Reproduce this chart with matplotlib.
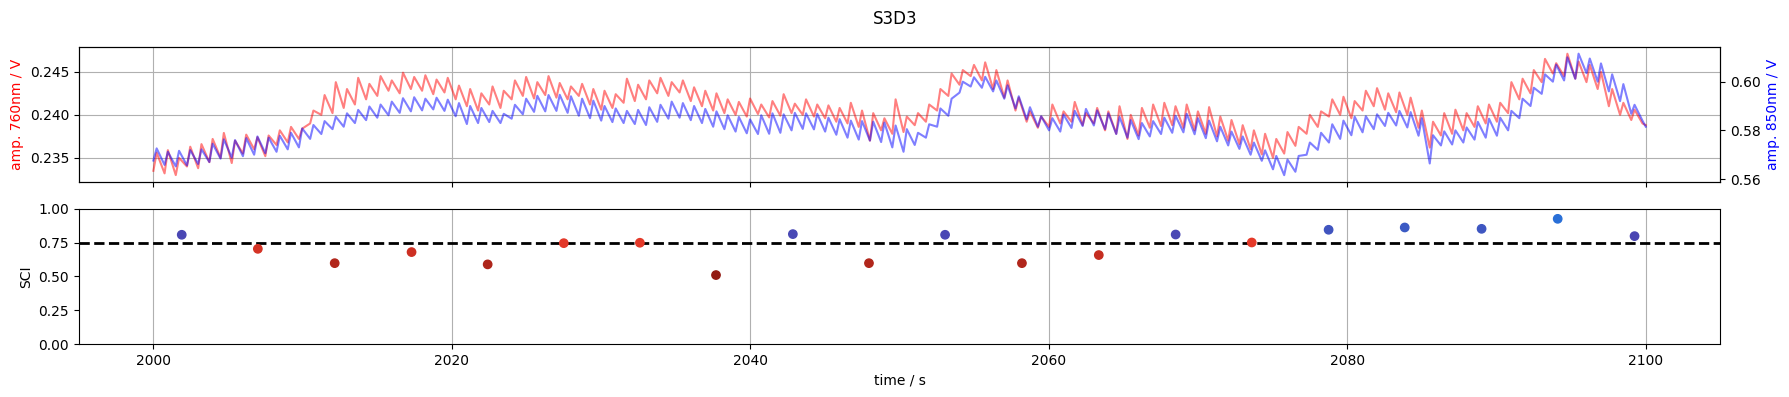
import numpy as np
import matplotlib
matplotlib.use("Agg")
import matplotlib.pyplot as plt
from matplotlib.colors import LinearSegmentedColormap

# ---------------- data ----------------
t_start, t_end = 2000.0, 2100.0
rise_time = 0.22  # s, trough -> peak of each pulse beat

# amplitude 760 nm (V), alternating trough / peak of each pulse beat
amp760 = [
    0.2335, 0.2356, 0.2332, 0.2359, 0.2330, 0.2350, 0.2340, 0.2363,
    0.2338, 0.2366, 0.2345, 0.2372, 0.2350, 0.2379, 0.2344, 0.2370,
    0.2355, 0.2377, 0.2360, 0.2374, 0.2352, 0.2376, 0.2365, 0.2382,
    0.2368, 0.2386, 0.2372, 0.2384, 0.2390, 0.2405, 0.2400, 0.2423,
    0.2402, 0.2438, 0.2408, 0.2430, 0.2412, 0.2443, 0.2418, 0.2436,
    0.2422, 0.2445, 0.2428, 0.2440, 0.2425, 0.2449, 0.2430, 0.2444,
    0.2428, 0.2446, 0.2424, 0.2441, 0.2426, 0.2443, 0.2418, 0.2434,
    0.2410, 0.2430, 0.2405, 0.2425, 0.2412, 0.2433, 0.2408, 0.2428,
    0.2418, 0.2440, 0.2422, 0.2444, 0.2419, 0.2438, 0.2423, 0.2445,
    0.2420, 0.2437, 0.2418, 0.2433, 0.2422, 0.2436, 0.2412, 0.2430,
    0.2406, 0.2428, 0.2408, 0.2424, 0.2414, 0.2442, 0.2416, 0.2435,
    0.2418, 0.2440, 0.2425, 0.2443, 0.2422, 0.2438, 0.2426, 0.2440,
    0.2416, 0.2432, 0.2410, 0.2428, 0.2405, 0.2425, 0.2402, 0.2418,
    0.2400, 0.2415, 0.2398, 0.2419, 0.2401, 0.2412, 0.2397, 0.2416,
    0.2399, 0.2424, 0.2402, 0.2413, 0.2400, 0.2418, 0.2398, 0.2412,
    0.2396, 0.2411, 0.2392, 0.2408, 0.2390, 0.2414, 0.2386, 0.2405,
    0.2370, 0.2402, 0.2382, 0.2396, 0.2378, 0.2418, 0.2380, 0.2398,
    0.2388, 0.2402, 0.2392, 0.2412, 0.2405, 0.2430, 0.2422, 0.2448,
    0.2435, 0.2452, 0.2445, 0.2458, 0.2440, 0.2461, 0.2430, 0.2452,
    0.2420, 0.2440, 0.2405, 0.2420, 0.2392, 0.2404, 0.2385, 0.2398,
    0.2386, 0.2412, 0.2390, 0.2404, 0.2392, 0.2415, 0.2388, 0.2402,
    0.2390, 0.2408, 0.2382, 0.2404, 0.2378, 0.2410, 0.2372, 0.2400,
    0.2376, 0.2408, 0.2385, 0.2412, 0.2387, 0.2414, 0.2388, 0.2410,
    0.2385, 0.2412, 0.2382, 0.2404, 0.2378, 0.2409, 0.2375, 0.2398,
    0.2370, 0.2394, 0.2366, 0.2388, 0.2360, 0.2382, 0.2354, 0.2378,
    0.2350, 0.2372, 0.2355, 0.2380, 0.2364, 0.2386, 0.2378, 0.2400,
    0.2386, 0.2404, 0.2398, 0.2418, 0.2400, 0.2421, 0.2396, 0.2416,
    0.2405, 0.2428, 0.2410, 0.2431, 0.2406, 0.2425, 0.2403, 0.2426,
    0.2400, 0.2420, 0.2385, 0.2405, 0.2362, 0.2392, 0.2376, 0.2402,
    0.2378, 0.2406, 0.2382, 0.2402, 0.2386, 0.2410, 0.2390, 0.2412,
    0.2392, 0.2414, 0.2402, 0.2438, 0.2418, 0.2442, 0.2425, 0.2452,
    0.2438, 0.2465, 0.2448, 0.2460, 0.2445, 0.2471, 0.2442, 0.2462,
    0.2438, 0.2458, 0.2430, 0.2450, 0.2410, 0.2430, 0.2400, 0.2414,
    0.2394, 0.2406, 0.2390, 0.2388,
]

# amplitude 850 nm (V), alternating trough / peak of each pulse beat
amp850 = [
    0.5676, 0.5726, 0.5658, 0.5712, 0.5652, 0.5716, 0.5656, 0.5719,
    0.5662, 0.5722, 0.5670, 0.5745, 0.5684, 0.5763, 0.5688, 0.5760,
    0.5694, 0.5768, 0.5700, 0.5775, 0.5706, 0.5770, 0.5712, 0.5778,
    0.5722, 0.5790, 0.5730, 0.5808, 0.5765, 0.5822, 0.5785, 0.5838,
    0.5805, 0.5856, 0.5815, 0.5870, 0.5830, 0.5884, 0.5842, 0.5898,
    0.5852, 0.5906, 0.5862, 0.5918, 0.5872, 0.5932, 0.5878, 0.5936,
    0.5882, 0.5930, 0.5886, 0.5934, 0.5880, 0.5926, 0.5858, 0.5912,
    0.5826, 0.5900, 0.5830, 0.5892, 0.5834, 0.5880, 0.5830, 0.5868,
    0.5848, 0.5905, 0.5866, 0.5930, 0.5876, 0.5942, 0.5878, 0.5945,
    0.5880, 0.5946, 0.5872, 0.5940, 0.5860, 0.5930, 0.5850, 0.5922,
    0.5840, 0.5900, 0.5834, 0.5890, 0.5830, 0.5880, 0.5826, 0.5884,
    0.5822, 0.5895, 0.5835, 0.5905, 0.5848, 0.5918, 0.5852, 0.5912,
    0.5842, 0.5900, 0.5830, 0.5888, 0.5815, 0.5878, 0.5805, 0.5862,
    0.5795, 0.5855, 0.5788, 0.5845, 0.5785, 0.5862, 0.5786, 0.5870,
    0.5790, 0.5866, 0.5800, 0.5872, 0.5806, 0.5870, 0.5804, 0.5868,
    0.5795, 0.5852, 0.5782, 0.5846, 0.5770, 0.5840, 0.5762, 0.5838,
    0.5758, 0.5836, 0.5752, 0.5832, 0.5730, 0.5820, 0.5712, 0.5805,
    0.5740, 0.5790, 0.5770, 0.5825, 0.5815, 0.5890, 0.5860, 0.5930,
    0.5955, 0.6000, 0.5980, 0.6018, 0.5975, 0.6020, 0.5960, 0.6005,
    0.5930, 0.5985, 0.5890, 0.5940, 0.5845, 0.5895, 0.5815, 0.5858,
    0.5800, 0.5850, 0.5795, 0.5865, 0.5810, 0.5880, 0.5818, 0.5888,
    0.5820, 0.5882, 0.5805, 0.5870, 0.5785, 0.5855, 0.5770, 0.5842,
    0.5764, 0.5830, 0.5775, 0.5838, 0.5785, 0.5852, 0.5790, 0.5860,
    0.5792, 0.5868, 0.5784, 0.5850, 0.5768, 0.5840, 0.5755, 0.5815,
    0.5738, 0.5795, 0.5724, 0.5775, 0.5700, 0.5750, 0.5675, 0.5718,
    0.5640, 0.5695, 0.5616, 0.5680, 0.5630, 0.5695, 0.5700, 0.5750,
    0.5720, 0.5790, 0.5750, 0.5825, 0.5765, 0.5840, 0.5780, 0.5856,
    0.5792, 0.5858, 0.5805, 0.5866, 0.5818, 0.5872, 0.5820, 0.5880,
    0.5812, 0.5875, 0.5778, 0.5850, 0.5664, 0.5780, 0.5738, 0.5796,
    0.5742, 0.5800, 0.5750, 0.5812, 0.5762, 0.5835, 0.5770, 0.5848,
    0.5778, 0.5852, 0.5800, 0.5880, 0.5850, 0.5930, 0.5900, 0.5975,
    0.5950, 0.6030, 0.6000, 0.6070, 0.6005, 0.6100, 0.6012, 0.6115,
    0.6035, 0.6095, 0.6000, 0.6075, 0.5960, 0.6030, 0.5920, 0.5990,
    0.5868, 0.5905, 0.5840, 0.5815,
]

# scalp coupling index per window
sci_time = [2001.9, 2007.0, 2012.15, 2017.3, 2022.4, 2027.5, 2032.6, 2037.7,
            2042.85, 2047.95, 2053.05, 2058.2, 2063.35, 2068.5, 2073.6,
            2078.75, 2083.85, 2089.0, 2094.1, 2099.25]
sci_value = [0.808, 0.704, 0.598, 0.680, 0.589, 0.746, 0.749, 0.510,
             0.813, 0.598, 0.808, 0.598, 0.658, 0.810, 0.751,
             0.845, 0.862, 0.852, 0.926, 0.798]
sci_threshold = 0.75

title = "S3D3"


# ---------------- plotting ----------------
def beat_times(n_points):
    """Sample times: each beat = (trough, peak) with a short rise."""
    n_beats = n_points // 2
    troughs = np.linspace(t_start, t_end - rise_time, n_beats)
    t = np.empty(n_points)
    t[0::2] = troughs
    t[1::2] = troughs + rise_time
    return t


t760 = beat_times(len(amp760))
t850 = beat_times(len(amp850))

fig = plt.figure(figsize=(17.9, 3.97), dpi=100)
ax1 = fig.add_axes([0.044, 0.5416, 0.9171, 0.3404])
ax3 = fig.add_axes([0.044, 0.1335, 0.9171, 0.3405], sharex=ax1)

ax1.plot(t760, amp760, color="r", alpha=0.5, lw=1.5)
ax1.set_ylabel("amp. 760nm / V", color="r")
ax1.set_ylim(0.2322, 0.2479)
ax1.grid(True)
ax1.tick_params(labelbottom=False)

ax2 = ax1.twinx()
ax2.plot(t850, amp850, color="b", alpha=0.5, lw=1.5)
ax2.set_ylabel("amp. 850nm / V", color="b")
ax2.set_ylim(0.5588, 0.6143)

cmap = LinearSegmentedColormap.from_list(
    "sci",
    [(0.0, "#901a12"), (0.52, "#e83a2a"), (0.521, "#4a3cac"),
     (0.62, "#4a48b4"), (0.86, "#2870d8"), (1.0, "#2278e0")])
cols = cmap(np.clip((np.array(sci_value) - 0.5) / 0.5, 0, 1))
ax3.scatter(sci_time, sci_value, c=cols, s=36, zorder=3)
ax3.axhline(sci_threshold, color="k", linestyle="--", lw=2)
ax3.set_ylim(0, 1)
ax3.set_yticks([0, 0.25, 0.5, 0.75, 1.0])
ax3.set_ylabel("SCI")
ax3.set_xlabel("time / s")
ax3.grid(True, axis="x")
ax3.set_xlim(1995, 2105)

fig.suptitle(title, y=0.975)
fig.savefig("out.png", dpi=100)
